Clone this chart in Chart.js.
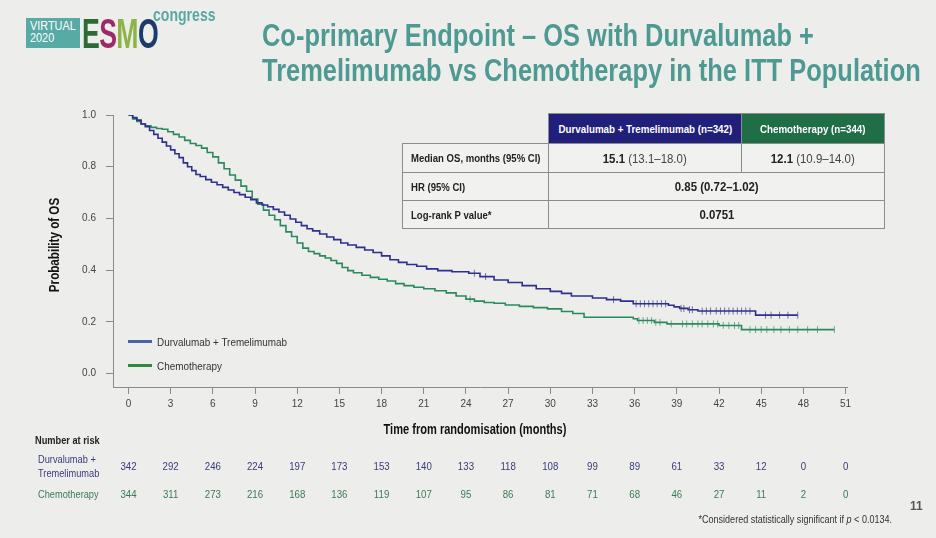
<!DOCTYPE html>
<html>
<head>
<meta charset="utf-8">
<script src="https://cdn.jsdelivr.net/npm/chart.js"></script>
<style>
  html, body { margin: 0; padding: 0; }
  body { width: 936px; height: 538px; background: #edeeec; position: relative; overflow: hidden;
         font-family: "Liberation Sans", Arial, sans-serif; }
  #wrap { position: absolute; left: 0; top: 0; width: 936px; height: 538px; }
  .cond { display: inline-block; white-space: nowrap; transform-origin: left center; }
  .title { position: absolute; left: 262px; top: 18px; color: #4e9a93; font-weight: bold; font-size: 32px; line-height: 35px;
           white-space: nowrap; transform: scaleX(0.795); transform-origin: left top; }
  .logo-box { position: absolute; left: 26px; top: 18px; width: 54px; height: 30px; background: #58aaa5; }
  .logo-txt { position: absolute; left: 30px; top: 20px; color: #fff; font-size: 12.5px; line-height: 12.3px;
              transform: scaleX(0.87); transform-origin: left top; white-space: nowrap; }
  .esmo { position: absolute; left: 82px; top: 12px; font-weight: bold; font-size: 43px; line-height: 43px; letter-spacing: -1px;
          transform: scaleX(0.62); transform-origin: left top; white-space: nowrap; }
  .congress { position: absolute; left: 153px; top: 5px; color: #5aa8a0; font-size: 19px; line-height: 19px; font-weight: bold;
              transform: scaleX(0.74); transform-origin: left top; }
  table.stats { position: absolute; left: 402px; top: 113px; width: 482px; border-collapse: collapse; table-layout: fixed; }
  table.stats td { border: 1px solid #8c8c8c; background: #f1f2f0; color: #222; padding: 0 8px; white-space: nowrap; overflow: visible; }
  table.stats td.lab { font-weight: bold; font-size: 10.5px; }
  table.stats td.lab span { transform: scaleX(0.91); }
  table.stats td.val { text-align: center; font-size: 13px; padding: 0; }
  table.stats td.val span.cond, table.stats td.hb span.cond, table.stats td.hg span.cond { transform-origin: center center; }
  table.stats td.val span.cond { transform: scaleX(0.88); }
  table.stats td.blank { border: none; background: transparent; }
  table.stats td.hb { background: #20207a; color: #fff; font-weight: bold; font-size: 10.5px; text-align: center; padding: 0; }
  table.stats td.hg { background: #1f6e46; color: #fff; font-weight: bold; font-size: 10.5px; text-align: center; padding: 0; }
  table.stats td.hb span.cond, table.stats td.hg span.cond { transform: scaleX(0.93); }
  .legend { position: absolute; left: 128px; font-size: 11.5px; color: #333; white-space: nowrap; }
  .legend span.sw { display: inline-block; width: 24px; height: 3px; vertical-align: middle; margin-right: 5px; }
  .legend span.cond { transform: scaleX(0.86); vertical-align: middle; }
  .pnum { position: absolute; left: 910px; top: 499px; font-size: 12px; font-weight: bold; color: #555; }
  .foot { position: absolute; right: 44px; top: 513px; font-size: 10.5px; color: #333; white-space: nowrap;
          transform: scaleX(0.86); transform-origin: right top; }
</style>
</head>
<body>
<div id="wrap"><canvas id="kmChart" width="936" height="538"></canvas></div>

<div class="logo-box"></div>
<div class="logo-txt">VIRTUAL<br>2020</div>
<div class="esmo"><span style="color:#2d6a35">E</span><span style="color:#9c2a66">S</span><span style="color:#8db446">M</span><span style="color:#1b3b6a">O</span></div>
<div class="congress">congress</div>

<div class="title">Co-primary Endpoint – OS with Durvalumab +<br>Tremelimumab vs Chemotherapy in the ITT Population</div>

<table class="stats">
  <colgroup><col style="width:146px"><col style="width:193px"><col style="width:143px"></colgroup>
  <tr style="height:30px"><td class="blank"></td><td class="hb"><span class="cond">Durvalumab + Tremelimumab (n=342)</span></td><td class="hg"><span class="cond">Chemotherapy (n=344)</span></td></tr>
  <tr style="height:29px"><td class="lab"><span class="cond">Median OS, months (95% CI)</span></td><td class="val"><span class="cond"><b>15.1</b> <span style="color:#444">(13.1–18.0)</span></span></td><td class="val"><span class="cond"><b>12.1</b> <span style="color:#444">(10.9–14.0)</span></span></td></tr>
  <tr style="height:28px"><td class="lab"><span class="cond">HR (95% CI)</span></td><td class="val" colspan="2"><span class="cond"><b>0.85 (0.72–1.02)</b></span></td></tr>
  <tr style="height:28px"><td class="lab"><span class="cond">Log-rank P value*</span></td><td class="val" colspan="2"><span class="cond"><b>0.0751</b></span></td></tr>
</table>

<div class="legend" style="top:335px"><span class="sw" style="background:#4a64a8"></span><span class="cond">Durvalumab + Tremelimumab</span></div>
<div class="legend" style="top:359px"><span class="sw" style="background:#2e8b3e"></span><span class="cond">Chemotherapy</span></div>

<div class="pnum">11</div>
<div class="foot">*Considered statistically significant if <i>p</i> &lt; 0.0134.</div>

<script>
// ticks
const xTicks = [0, 3, 6, 9, 12, 15, 18, 21, 24, 27, 30, 33, 36, 39, 42, 45, 48, 51];
const yTicks = [0, 0.2, 0.4, 0.6, 0.8, 1.0];

// Durvalumab + Tremelimumab KM curve
const durvaTime = [0, 0.3, 0.6, 0.9, 1.2, 1.5, 1.8, 2.1, 2.4, 2.7, 3.0, 3.3, 3.6, 3.9, 4.2, 4.5, 4.8, 5.1, 5.5, 5.9,
  6.3, 6.7, 7.1, 7.5, 7.9, 8.3, 8.7, 9.1, 9.5, 9.9, 10.3, 10.7, 11.1, 11.5, 11.9, 12.3, 12.7, 13.1, 13.6, 14.1,
  14.6, 15.1, 15.6, 16.2, 16.8, 17.4, 18.0, 18.6, 19.2, 19.8, 20.5, 21.2, 22.0, 23.0, 24.2, 25.0, 26.0, 27.0, 28.0, 29.0,
  30.0, 30.8, 31.5, 33.0, 34.0, 35.0, 35.9, 38.4, 38.8, 39.2, 39.8, 40.5, 44.6, 47.6];
const durvaSurv = [1.0, 0.99, 0.98, 0.965, 0.955, 0.94, 0.925, 0.91, 0.895, 0.88, 0.865, 0.85, 0.835, 0.815, 0.80, 0.785, 0.77, 0.762, 0.75, 0.74,
  0.73, 0.72, 0.71, 0.70, 0.692, 0.682, 0.672, 0.66, 0.652, 0.645, 0.635, 0.625, 0.612, 0.598, 0.585, 0.572, 0.56, 0.552, 0.54, 0.528,
  0.518, 0.505, 0.497, 0.488, 0.478, 0.468, 0.455, 0.44, 0.43, 0.422, 0.415, 0.405, 0.398, 0.394, 0.388, 0.375, 0.362, 0.352, 0.34, 0.328,
  0.318, 0.31, 0.30, 0.292, 0.286, 0.28, 0.27, 0.264, 0.258, 0.252, 0.247, 0.242, 0.226, 0.226];

// Chemotherapy KM curve
const chemoTime = [0, 0.3, 0.6, 0.9, 1.2, 1.6, 2.0, 2.4, 2.8, 3.2, 3.6, 4.0, 4.4, 4.8, 5.2, 5.6, 6.0, 6.4, 6.8, 7.2,
  7.6, 8.0, 8.4, 8.8, 9.2, 9.6, 10.0, 10.4, 10.8, 11.2, 11.6, 12.0, 12.4, 12.8, 13.2, 13.6, 14.0, 14.4, 14.8, 15.2,
  15.6, 16.0, 16.6, 17.2, 17.8, 18.4, 19.0, 19.6, 20.3, 21.0, 21.8, 22.6, 23.3, 24.0, 24.6, 25.3, 26.0, 26.8, 27.8, 28.8,
  29.8, 30.8, 31.6, 32.4, 35.9, 36.2, 37.4, 38.3, 42.0, 43.6, 50.2];
const chemoSurv = [1.0, 0.985, 0.975, 0.965, 0.958, 0.952, 0.948, 0.945, 0.935, 0.925, 0.915, 0.902, 0.89, 0.882, 0.872, 0.855, 0.838, 0.815, 0.792, 0.768,
  0.748, 0.725, 0.705, 0.675, 0.655, 0.632, 0.612, 0.595, 0.572, 0.548, 0.53, 0.505, 0.485, 0.472, 0.464, 0.455, 0.447, 0.437, 0.426, 0.41,
  0.398, 0.39, 0.38, 0.372, 0.365, 0.358, 0.348, 0.34, 0.334, 0.328, 0.32, 0.312, 0.30, 0.288, 0.28, 0.275, 0.272, 0.265, 0.26, 0.255,
  0.25, 0.24, 0.232, 0.218, 0.212, 0.205, 0.198, 0.192, 0.186, 0.17, 0.17];

// censor ticks
const durvaCensorTime = [24.6, 25.4, 34.5, 36.1, 36.4, 36.7, 37.0, 37.3, 37.6, 37.9, 38.2, 39.3, 39.5, 39.9, 40.1,
  40.8, 41.1, 41.4, 41.8, 42.1, 42.4, 42.7, 43.0, 43.3, 43.6, 43.9, 44.2, 45.3, 45.7, 46.3, 46.9, 47.6];
const durvaCensorSurv = [0.388, 0.375, 0.286, 0.27, 0.27, 0.27, 0.27, 0.27, 0.27, 0.27, 0.27, 0.252, 0.252, 0.247, 0.247,
  0.242, 0.242, 0.242, 0.242, 0.242, 0.242, 0.242, 0.242, 0.242, 0.242, 0.242, 0.242, 0.226, 0.226, 0.226, 0.226, 0.226];
const chemoCensorTime = [24.3, 36.3, 36.6, 36.9, 37.2, 37.5, 37.8, 38.6, 39.4, 39.7, 40.1, 40.5, 40.8, 41.2, 41.6, 41.9,
  42.3, 42.7, 43.1, 43.4, 44.2, 44.6, 45.0, 45.4, 45.9, 46.4, 47.0, 47.6, 48.3, 49.0, 50.2];
const chemoCensorSurv = [0.288, 0.205, 0.205, 0.205, 0.205, 0.198, 0.198, 0.192, 0.192, 0.192, 0.192, 0.192, 0.192, 0.192, 0.192, 0.192,
  0.186, 0.186, 0.186, 0.186, 0.17, 0.17, 0.17, 0.17, 0.17, 0.17, 0.17, 0.17, 0.17, 0.17, 0.17];

// number at risk
const durvaAtRisk = [342, 292, 246, 224, 197, 173, 153, 140, 133, 118, 108, 99, 89, 61, 33, 12, 0, 0];
const chemoAtRisk = [344, 311, 273, 216, 168, 136, 119, 107, 95, 86, 81, 71, 68, 46, 27, 11, 2, 0];

const blueLine = '#2f2f8c';
const greenLine = '#2a8a5e';
const axisGrey = '#8a8a8a';
const fontFam = '"Liberation Sans", Arial, sans-serif';

function pts(t, s) { return t.map((v, i) => ({ x: v, y: s[i] })); }

// canvas text squeezed horizontally (the slide uses a narrow font)
function narrowText(ctx, text, x, y, align, sx, rot) {
    ctx.save();
    ctx.translate(x, y);
    if (rot) ctx.rotate(rot);
    ctx.scale(sx, 1);
    ctx.textAlign = align;
    ctx.fillText(text, 0, 0);
    ctx.restore();
}

// axis titles + "Number at risk" table, aligned to the x scale
const slidePlugin = {
    id: 'slideText',
    afterDraw(chart) {
        const ctx = chart.ctx;
        const xs = chart.scales.x;
        ctx.save();
        ctx.textBaseline = 'middle';

        ctx.fillStyle = '#111';
        ctx.font = 'bold 14px ' + fontFam;
        narrowText(ctx, 'Time from randomisation (months)', 475, 430, 'center', 0.79);
        narrowText(ctx, 'Probability of OS', 55, 245, 'center', 0.83, -Math.PI / 2);

        ctx.fillStyle = '#222';
        ctx.font = 'bold 11px ' + fontFam;
        narrowText(ctx, 'Number at risk', 35, 441, 'left', 0.84);

        ctx.font = '11px ' + fontFam;
        ctx.fillStyle = '#3b3b7a';
        narrowText(ctx, 'Durvalumab +', 38, 460, 'left', 0.84);
        narrowText(ctx, 'Tremelimumab', 38, 474, 'left', 0.84);
        ctx.fillStyle = '#3a7a55';
        narrowText(ctx, 'Chemotherapy', 38, 495, 'left', 0.84);

        xTicks.forEach((t, i) => {
            const x = xs.getPixelForValue(t);
            ctx.fillStyle = '#3b3b7a';
            narrowText(ctx, String(durvaAtRisk[i]), x, 467, 'center', 0.88);
            ctx.fillStyle = '#3a7a55';
            narrowText(ctx, String(chemoAtRisk[i]), x, 495, 'center', 0.88);
        });
        ctx.restore();
    }
};

new Chart(document.getElementById('kmChart'), {
    type: 'line',
    data: {
        datasets: [
            {
                label: 'Durvalumab + Tremelimumab',
                data: pts(durvaTime, durvaSurv),
                borderColor: blueLine,
                borderWidth: 1.6,
                stepped: true,
                pointRadius: 0,
                fill: false
            },
            {
                label: 'Chemotherapy',
                data: pts(chemoTime, chemoSurv),
                borderColor: greenLine,
                borderWidth: 1.6,
                stepped: true,
                pointRadius: 0,
                fill: false
            },
            {
                label: 'Durva censored',
                data: pts(durvaCensorTime, durvaCensorSurv),
                showLine: false,
                pointStyle: 'line',
                rotation: 90,
                pointRadius: 3.5,
                borderWidth: 1,
                borderColor: '#7070aa'
            },
            {
                label: 'Chemo censored',
                data: pts(chemoCensorTime, chemoCensorSurv),
                showLine: false,
                pointStyle: 'line',
                rotation: 90,
                pointRadius: 3.5,
                borderWidth: 1,
                borderColor: '#70aa8e'
            }
        ]
    },
    options: {
        responsive: false,
        animation: false,
        layout: { padding: { left: 42, right: 89, top: 115, bottom: 96 } },
        scales: {
            x: {
                type: 'linear',
                min: -1.1,
                max: 51.1,
                afterBuildTicks: axis => { axis.ticks = xTicks.map(v => ({ value: v })); },
                afterFit: axis => { axis.height = 55; },
                grid: { drawOnChartArea: false, color: axisGrey, tickLength: 7 },
                border: { color: axisGrey },
                ticks: { color: '#444', font: { family: fontFam, size: 10 }, padding: 4, maxRotation: 0, autoSkip: false },
                title: { display: false }
            },
            y: {
                min: -0.052,
                max: 1.0,
                afterBuildTicks: axis => { axis.ticks = yTicks.map(v => ({ value: v })); },
                afterFit: axis => { axis.width = 71; },
                grid: { drawOnChartArea: false, color: axisGrey, tickLength: 7 },
                border: { color: axisGrey },
                ticks: { color: '#444', font: { family: fontFam, size: 10 }, padding: 10,
                         callback: v => v.toFixed(1) },
                title: { display: false }
            }
        },
        plugins: {
            legend: { display: false },
            tooltip: { enabled: false }
        }
    },
    plugins: [slidePlugin]
});
</script>
</body>
</html>
